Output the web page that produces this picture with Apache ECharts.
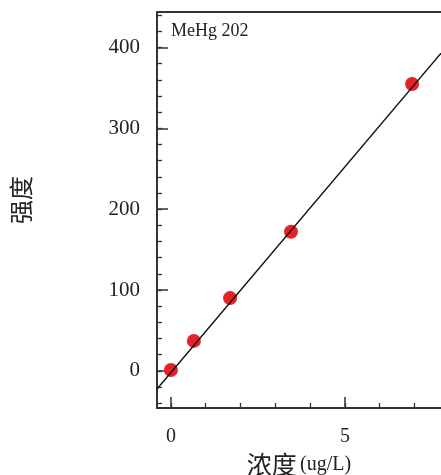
<!DOCTYPE html>
<html>
<head>
<meta charset="utf-8">
<script src="https://cdn.jsdelivr.net/npm/echarts@6/dist/echarts.min.js"></script>
<style>
  html, body { margin: 0; padding: 0; background: #fff; }
  #chart { width: 441px; height: 475px; }
</style>
</head>
<body>
<div id="chart"></div>
<script>
// 标准点
var concX = [0, 0.66, 1.7, 3.45, 6.93];
var intensityY = [1, 37, 90, 172, 355];
// 拟合直线两端
var fitX = [-0.4, 7.76];
var fitY = [-22.5, 393];
// 刻度
var xTicks = [0, 5];
var xMinorTicks = [0, 1, 2, 3, 4, 5, 6, 7];
var yTicks = [0, 100, 200, 300, 400];
var yMinorTicks = [-40, -20, 0, 20, 40, 60, 80, 100, 120, 140, 160, 180, 200, 220,
    240, 260, 280, 300, 320, 340, 360, 380, 400, 420, 440];

var serif = '"Liberation Serif", "DejaVu Serif", serif';
var axisColor = '#333';

var pts = [];
for (var i = 0; i < concX.length; i++) {
    pts.push([concX[i], intensityY[i]]);
}
var fit = [];
for (var j = 0; j < fitX.length; j++) {
    fit.push([fitX[j], fitY[j]]);
}

var option = {
    animation: false,
    title: {
        text: 'MeHg 202',
        left: 166,
        top: 17,
        textStyle: { fontFamily: serif, fontSize: 18, fontWeight: 'normal', color: '#222' }
    },
    grid: { left: 157, top: 12, right: 0, bottom: 67, outerBoundsMode: 'none', containLabel: false },
    xAxis: [
        {
            type: 'value',
            min: -0.4,
            max: 7.76,
            position: 'bottom',
            name: '{cn|浓度} {en|(ug/L)}',
            nameLocation: 'middle',
            nameGap: 39,
            nameTextStyle: {
                rich: {
                    cn: { fontFamily: '"Noto Sans CJK SC"', fontSize: 25, color: '#222' },
                    en: { fontFamily: serif, fontSize: 20, color: '#222' }
                }
            },
            axisLine: { onZero: false, lineStyle: { color: axisColor, width: 2 } },
            axisTick: {
                inside: true, length: 11, lineStyle: { color: axisColor, width: 1.5 },
                customValues: xTicks
            },
            axisLabel: {
                customValues: xTicks,
                fontFamily: serif, fontSize: 20, color: '#222', margin: 19
            },
            splitLine: { show: false }
        },
        {
            type: 'value',
            min: -0.4,
            max: 7.76,
            position: 'top',
            axisLine: { show: true, onZero: false, lineStyle: { color: axisColor, width: 2 } },
            axisTick: { show: false },
            axisLabel: { show: false },
            splitLine: { show: false }
        },
        {
            // 次刻度
            type: 'value',
            min: -0.4,
            max: 7.76,
            position: 'bottom',
            axisLine: { show: false, onZero: false },
            axisTick: {
                inside: true, length: 5, lineStyle: { color: axisColor, width: 1.3 },
                customValues: xMinorTicks
            },
            axisLabel: { show: false },
            splitLine: { show: false }
        }
    ],
    yAxis: [
        {
            type: 'value',
            min: -46,
            max: 444,
            name: '强度',
            nameLocation: 'middle',
            nameGap: 124,
            nameRotate: 90,
            nameTextStyle: {
                fontFamily: '"Noto Sans CJK SC"', fontSize: 24, color: '#222',
                padding: [0, 0, 0, 20]
            },
            axisLine: { show: true, onZero: false, lineStyle: { color: axisColor, width: 2 } },
            axisTick: {
                inside: true, length: 11, lineStyle: { color: axisColor, width: 1.5 },
                customValues: yTicks
            },
            axisLabel: {
                customValues: yTicks,
                fontFamily: serif, fontSize: 21, color: '#222', margin: 17
            },
            splitLine: { show: false }
        },
        {
            type: 'value',
            min: -46,
            max: 444,
            position: 'left',
            axisLine: { show: false, onZero: false },
            axisTick: {
                inside: true, length: 5, lineStyle: { color: axisColor, width: 1.3 },
                customValues: yMinorTicks
            },
            axisLabel: { show: false },
            splitLine: { show: false }
        }
    ],
    series: [
        {
            type: 'line',
            data: fit,
            symbol: 'none',
            lineStyle: { color: '#111', width: 1.4 },
            z: 3
        },
        {
            type: 'scatter',
            data: pts,
            symbolSize: 14,
            itemStyle: { color: '#e52228', opacity: 1 },
            z: 2
        }
    ]
};

var myChart = echarts.init(document.getElementById('chart'));
myChart.setOption(option);
</script>
</body>
</html>
